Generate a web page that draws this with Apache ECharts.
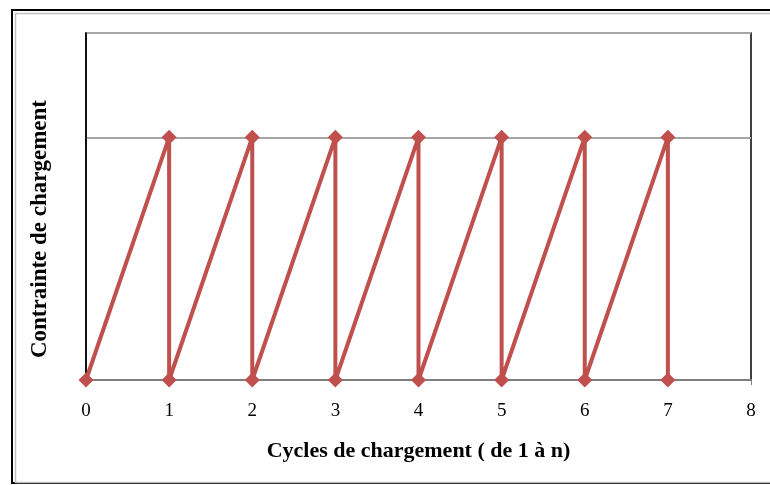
<!DOCTYPE html>
<html>
<head>
<meta charset="utf-8">
<style>
  html, body { margin: 0; padding: 0; background: #fff; }
  #chart { width: 770px; height: 485px; }
</style>
<script src="https://cdn.jsdelivr.net/npm/echarts@6/dist/echarts.min.js"></script>
</head>
<body>
<div id="chart"></div>
<script>
// sawtooth loading cycles: rise to 1, drop back to 0
const cycleX = [0, 1, 1, 2, 2, 3, 3, 4, 4, 5, 5, 6, 6, 7, 7];
const stress = [0, 1, 0, 1, 0, 1, 0, 1, 0, 1, 0, 1, 0, 1, 0];
const xTicks = ['0', '1', '2', '3', '4', '5', '6', '7', '8'];

const serif = '"Liberation Serif", "Times New Roman", serif';
const red = '#C0504D';

const chart = echarts.init(document.getElementById('chart'), null, { renderer: 'canvas' });

chart.setOption({
  animation: false,
  grid: {
    left: 86, right: 19, top: 33, bottom: 105,
    show: true, borderColor: '#000', borderWidth: 1.5
  },
  xAxis: {
    type: 'value',
    min: 0, max: xTicks.length - 1, interval: 1,
    name: 'Cycles de chargement ( de 1 à n)',
    nameLocation: 'middle',
    nameGap: 60,
    nameTextStyle: { fontFamily: serif, fontSize: 22, fontWeight: 'bold', color: '#000' },
    axisLine: { lineStyle: { color: '#7f7f7f', width: 2 } },
    axisTick: { show: true, length: 5, lineStyle: { color: '#7f7f7f' } },
    axisLabel: {
      margin: 22, fontFamily: serif, fontSize: 19, color: '#000',
      formatter: v => xTicks[v]
    },
    splitLine: { show: false }
  },
  yAxis: {
    type: 'value',
    min: 0, max: 1.43, interval: 1,
    axisLine: { show: true, lineStyle: { color: '#000', width: 1.5 } },
    axisTick: { show: false },
    axisLabel: { show: false },
    splitLine: { show: true, lineStyle: { color: '#a6a6a6', width: 2 } }
  },
  graphic: [
    { type: 'rect', shape: { x: 12, y: 10, width: 800, height: 473 },
      style: { fill: null, stroke: '#000', lineWidth: 2 }, z: 100 },
    { type: 'rect', shape: { x: 15.5, y: 13.5, width: 800, height: 469 },
      style: { fill: null, stroke: '#bfbfbf', lineWidth: 1.5 }, z: 100 },
    { type: 'text', x: 40, y: 229, rotation: Math.PI / 2,
      style: {
        text: 'Contrainte de chargement', fontFamily: serif, fontSize: 23,
        fontWeight: 'bold', fill: '#000', align: 'center', verticalAlign: 'middle'
      } }
  ],
  series: [{
    type: 'line',
    data: cycleX.map((x, i) => [x, stress[i]]),
    symbol: 'diamond',
    symbolSize: 15,
    showAllSymbol: true,
    lineStyle: { color: red, width: 4 },
    itemStyle: { color: red },
    clip: false
  }]
});
</script>
</body>
</html>
